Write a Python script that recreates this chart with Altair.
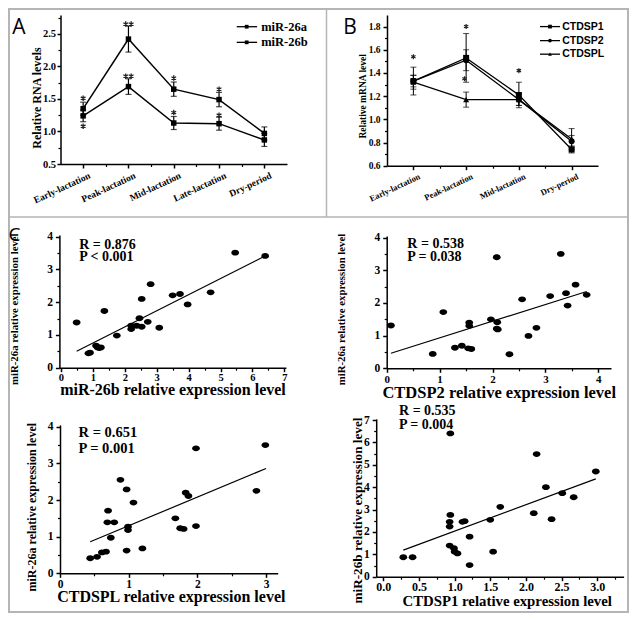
import json
import altair as alt
import pandas as pd

# ---------------- data ----------------
# Panel A
stages_a = ["Early-lactation", "Peak-lactation", "Mid-lactation", "Late-lactation", "Dry-period"]
mir26a = [1.35, 2.42, 1.65, 1.49, 0.97]
mir26a_err = [0.10, 0.20, 0.11, 0.11, 0.10]
mir26b = [1.24, 1.69, 1.13, 1.12, 0.87]
mir26b_err = [0.09, 0.12, 0.10, 0.10, 0.10]
sig_a_x = [1, 1, 2, 2, 3, 3, 4, 4]
sig_a_y = [1.51, 1.08, 2.65, 1.85, 1.82, 1.29, 1.65, 1.25]
sig_a_t = ["*", "*", "**", "**", "*", "*", "*", "*"]

# Panel B
stages_b = ["Early-lactation", "Peak-lactation", "Mid-lactation", "Dry-period"]
ctdsp1 = [1.33, 1.53, 1.21, 0.74]
ctdsp1_err = [0.12, 0.21, 0.11, 0.03]
ctdsp2 = [1.33, 1.51, 1.17, 0.81]
ctdsp2_err = [0.05, 0.09, 0.05, 0.05]
ctdspl = [1.32, 1.17, 1.17, 0.83]
ctdspl_err = [0.06, 0.065, 0.05, 0.09]
sig_b_x = [1.0, 2.0, 1.97, 3.0]
sig_b_y = [1.54, 1.80, 1.35, 1.42]
sig_b_t = ["*", "*", "*", "*"]

# Panel C1: miR-26b (x) vs miR-26a (y)
c1_x = [0.49, 0.86, 0.91, 1.10, 1.15, 1.20, 1.25, 1.36, 1.75, 2.20, 2.20, 2.37, 2.46, 2.53,
        2.53, 2.72, 2.81, 3.08, 3.50, 3.73, 3.97, 4.69, 5.46, 6.40]
c1_y = [1.38, 0.44, 0.46, 0.67, 0.62, 0.60, 0.62, 1.73, 0.98, 1.28, 1.18, 1.28, 1.51, 1.25,
        2.10, 1.40, 2.55, 1.22, 2.21, 2.25, 1.93, 2.30, 3.51, 3.41]
c1_fit_x = [0.49, 6.40]
c1_fit_y = [0.50, 3.41]
c1_stats = ["R = 0.876", "P < 0.001"]

# Panel C2: CTDSP2 (x) vs miR-26a (y)
c2_x = [0.08, 0.87, 1.07, 1.29, 1.42, 1.54, 1.60, 1.56, 1.56, 1.97, 2.08, 2.09, 2.08, 2.10,
        2.32, 2.56, 2.68, 2.83, 3.09, 3.29, 3.39, 3.42, 3.57, 3.78]
c2_y = [1.31, 0.44, 1.72, 0.63, 0.69, 0.61, 0.59, 1.40, 1.30, 1.50, 3.40, 1.41, 1.21, 1.19,
        0.43, 2.11, 0.99, 1.24, 2.21, 3.50, 2.30, 1.92, 2.56, 2.25]
c2_fit_x = [0.08, 3.78]
c2_fit_y = [0.46, 2.35]
c2_stats = ["R = 0.538", "P = 0.038"]

# Panel C3: CTDSPL (x) vs miR-26a (y)
c3_x = [0.44, 0.54, 0.61, 0.67, 0.69, 0.70, 0.79, 0.74, 0.88, 0.97, 0.97, 0.99, 0.99, 1.07,
        1.20, 1.68, 1.75, 1.80, 1.83, 1.87, 1.98, 1.98, 2.86, 2.99]
c3_y = [0.41, 0.45, 0.57, 0.59, 1.39, 1.71, 1.39, 0.97, 2.55, 2.29, 0.62, 1.27, 1.18, 1.93,
        0.68, 1.50, 1.23, 1.21, 2.20, 2.11, 3.41, 1.29, 2.25, 3.50]
c3_fit_x = [0.44, 3.00]
c3_fit_y = [0.86, 2.86]
c3_stats = ["R = 0.651", "P = 0.001"]

# Panel C4: CTDSP1 (x) vs miR-26b (y)
c4_x = [0.28, 0.41, 0.94, 0.93, 0.93, 0.94, 0.93, 0.99, 1.00, 1.04, 1.11, 1.14, 1.21, 1.21,
        1.50, 1.54, 1.64, 2.11, 2.15, 2.28, 2.36, 2.51, 2.67, 2.98]
c4_y = [0.87, 0.87, 6.40, 2.45, 2.24, 2.76, 1.39, 1.27, 1.12, 1.04, 2.45, 2.48, 1.79, 0.52,
        2.54, 1.12, 3.12, 2.84, 5.48, 4.00, 2.57, 3.73, 3.55, 4.70]
c4_fit_x = [0.28, 2.98]
c4_fit_y = [1.19, 4.37]
c4_stats = ["R = 0.535", "P = 0.004"]

# ---------------- layout helpers ----------------
W, H = 621, 605
SERIF = "Liberation Serif"
SANS = "Liberation Sans"
ELLIPSE = "M-1,0A1,0.75 0 1,0 1,0A1,0.75 0 1,0 -1,0Z"
ASTERISK = "M0,-1L0,1M-0.87,-0.5L0.87,0.5M-0.87,0.5L0.87,-0.5"

AX_STYLE = dict(grid=False, domainColor="black", domainWidth=1.5, tickColor="black", tickWidth=1.5,
                labelFont=SERIF, labelFontWeight="bold", labelColor="black", labelFlush=False,
                labelOverlap=False, titleFont=SERIF, titleFontWeight="bold", titleColor="black")
MINOR_STYLE = dict(grid=False, domain=False, labels=False, tickColor="black", tickWidth=1.2,
                   tickSize=2.5, title="")


def scale(dom, rng):
    return alt.Scale(domain=dom, range=rng, nice=False, zero=False)


def x_axis(axis_y, values, **kw):
    return alt.Axis(orient="bottom", offset=axis_y - H, values=values, **AX_STYLE, **kw)


def y_axis(axis_x, values, **kw):
    return alt.Axis(orient="left", offset=-axis_x, values=values, **AX_STYLE, **kw)


class Panel:
    def __init__(self, xs, ys, xa, ya, ax_y, ax_x, xminor, yminor):
        self.xs, self.ys, self.xa, self.ya = xs, ys, xa, ya
        self.ax_y, self.ax_x = ax_y, ax_x
        self.xminor, self.yminor = xminor, yminor

    def X(self, f):
        return alt.X(f"{f}:Q", scale=self.xs, axis=self.xa)

    def Y(self, f):
        return alt.Y(f"{f}:Q", scale=self.ys, axis=self.ya)

    def minor_layer(self, df, xf, yf):
        return alt.Chart(df).mark_point(opacity=0, size=1).encode(
            x=alt.X(f"{xf}:Q", scale=self.xs,
                    axis=alt.Axis(orient="bottom", offset=self.ax_y - H, values=self.xminor, **MINOR_STYLE)),
            y=alt.Y(f"{yf}:Q", scale=self.ys,
                    axis=alt.Axis(orient="left", offset=-self.ax_x, values=self.yminor, **MINOR_STYLE)),
        )

    def wrap(self, layers, df, xf, yf):
        return alt.layer(alt.layer(*layers), self.minor_layer(df, xf, yf)).resolve_axis(
            x="independent", y="independent")


def cat_expr(names):
    return json.dumps(names) + "[datum.value - 1]"


def steps(lo, hi, step):
    out, v = [], lo
    while v <= hi + 1e-9:
        out.append(round(v, 3))
        v += step
    return out


def star_rows(xs, ys, ts, gap):
    rows = []
    for x, y, t in zip(xs, ys, ts):
        n = len(t)
        for k in range(n):
            rows.append({"x": x + (k - (n - 1) / 2) * gap, "y": y})
    return pd.DataFrame(rows)


# ---------------- Panel A ----------------
pa = Panel(
    scale([0.5, 5.5], [52.5, 279]),
    scale([0.5, 2.79], [156, 7]),
    x_axis(156, [1, 2, 3, 4, 5], labelExpr=cat_expr(stages_a), labelAngle=335, labelOffset=4,
           labelFontSize=9.5, tickSize=4, labelPadding=2, title=""),
    y_axis(52.5, [0.5, 1.0, 1.5, 2.0, 2.5], format=".1f", labelFontSize=10.5, tickSize=3.5,
           labelPadding=1.5, title="Relative RNA levels", titleFontSize=12, titleAngle=270,
           titleAlign="center", titleBaseline="middle", titleX=-23.8, titleY=89.5),
    156, 52.5, [1.5, 2.5, 3.5, 4.5], [0.75, 1.25, 1.75, 2.25, 2.75],
)
rows = []
for name, vals, errs in [("miR-26a", mir26a, mir26a_err), ("miR-26b", mir26b, mir26b_err)]:
    for i, (v, e) in enumerate(zip(vals, errs)):
        rows.append({"series": name, "x": i + 1, "y": v, "lo": v - e, "hi": v + e})
df_a = pd.DataFrame(rows)
df_sig_a = star_rows(sig_a_x, sig_a_y, sig_a_t, 0.12)
leg_a = pd.DataFrame({"label": ["miR-26a", "miR-26b"], "y": [2.61, 2.37],
                      "x1": [4.39] * 2, "x2": [4.84] * 2, "xm": [4.61] * 2, "xt": [4.93] * 2})

base_a = alt.Chart(df_a)
panel_a = pa.wrap([
    base_a.mark_rule(color="black", strokeWidth=1.2).encode(x=pa.X("x"), y=pa.Y("lo"), y2="hi"),
    base_a.mark_tick(orient="horizontal", size=6, thickness=1.2, color="black").encode(x=pa.X("x"), y=pa.Y("lo")),
    base_a.mark_tick(orient="horizontal", size=6, thickness=1.2, color="black").encode(x=pa.X("x"), y=pa.Y("hi")),
    base_a.mark_line(color="black", strokeWidth=1.5).encode(x=pa.X("x"), y=pa.Y("y"), detail="series:N"),
    base_a.mark_point(shape="square", filled=True, size=30, color="black", opacity=1).encode(x=pa.X("x"), y=pa.Y("y")),
    alt.Chart(df_sig_a).mark_point(shape=ASTERISK, filled=False, size=30, strokeWidth=1.3, color="#222222",
                                   opacity=1).encode(x=pa.X("x"), y=pa.Y("y")),
    alt.Chart(leg_a).mark_rule(color="black", strokeWidth=1.3).encode(x=pa.X("x1"), x2="x2", y=pa.Y("y")),
    alt.Chart(leg_a).mark_point(shape="square", filled=True, size=14, color="black", opacity=1).encode(
        x=pa.X("xm"), y=pa.Y("y")),
    alt.Chart(leg_a).mark_text(font=SERIF, fontWeight="bold", fontSize=12.5, align="left", baseline="middle",
                               color="black").encode(x=pa.X("xt"), y=pa.Y("y"), text="label:N"),
], df_a, "x", "y")

# ---------------- Panel B ----------------
pb = Panel(
    scale([0.5, 4.5], [379, 590]),
    scale([0.6, 1.9], [157.7, 7]),
    x_axis(157.7, [1, 2, 3, 4], labelExpr=cat_expr(stages_b), labelAngle=335, labelOffset=4,
           labelFontSize=8.5, tickSize=4, labelPadding=2, title=""),
    y_axis(379, [0.6, 0.8, 1.0, 1.2, 1.4, 1.6, 1.8], format=".1f", labelFontSize=9.5, tickSize=4,
           labelPadding=3, title="Relative mRNA level", titleFontSize=9.5, titleAngle=270,
           titleAlign="center", titleBaseline="middle", titleX=-24.8, titleY=87.8),
    157.7, 379, [1.5, 2.5, 3.5], [0.7, 0.9, 1.1, 1.3, 1.5, 1.7],
)
shapes_b = {"CTDSP1": "square", "CTDSP2": "circle", "CTDSPL": "triangle-up"}
rows = []
for name, vals, errs in [("CTDSP1", ctdsp1, ctdsp1_err), ("CTDSP2", ctdsp2, ctdsp2_err),
                         ("CTDSPL", ctdspl, ctdspl_err)]:
    for i, (v, e) in enumerate(zip(vals, errs)):
        rows.append({"series": name, "x": i + 1, "y": v, "lo": v - e, "hi": v + e})
df_b = pd.DataFrame(rows)
df_sig_b = star_rows(sig_b_x, sig_b_y, sig_b_t, 0.1)
leg_b = pd.DataFrame({"label": ["CTDSP1", "CTDSP2", "CTDSPL"], "y": [1.80, 1.679, 1.562],
                      "x1": [3.40] * 3, "x2": [3.78] * 3, "xm": [3.59] * 3, "xt": [3.82] * 3})
base_b = alt.Chart(df_b)
layers_b = [
    base_b.mark_rule(color="black", strokeWidth=1).encode(x=pb.X("x"), y=pb.Y("lo"), y2="hi"),
    base_b.mark_tick(orient="horizontal", size=6, thickness=1, color="black").encode(x=pb.X("x"), y=pb.Y("lo")),
    base_b.mark_tick(orient="horizontal", size=6, thickness=1, color="black").encode(x=pb.X("x"), y=pb.Y("hi")),
    base_b.mark_line(color="black", strokeWidth=1.3).encode(x=pb.X("x"), y=pb.Y("y"), detail="series:N"),
    alt.Chart(leg_b).mark_rule(color="black", strokeWidth=1.3).encode(x=pb.X("x1"), x2="x2", y=pb.Y("y")),
]
for name, shp in shapes_b.items():
    layers_b.append(
        base_b.transform_filter(alt.datum.series == name).mark_point(
            shape=shp, filled=True, size=36, color="black", opacity=1).encode(x=pb.X("x"), y=pb.Y("y")))
    layers_b.append(
        alt.Chart(leg_b).transform_filter(alt.datum.label == name).mark_point(
            shape=shp, filled=True, size=14, color="black", opacity=1).encode(x=pb.X("xm"), y=pb.Y("y")))
layers_b += [
    alt.Chart(df_sig_b).mark_point(shape=ASTERISK, filled=False, size=25, strokeWidth=1.2, color="#222222",
                                   opacity=1).encode(x=pb.X("x"), y=pb.Y("y")),
    alt.Chart(leg_b).mark_text(font=SANS, fontWeight="bold", fontSize=10.5, align="left", baseline="middle",
                               color="black").encode(x=pb.X("xt"), y=pb.Y("y"), text="label:N"),
]
panel_b = pb.wrap(layers_b, df_b, "x", "y")


# ---------------- scatter panels ----------------
def scatter(px, py, fx, fy, stats, stat_x, stat_y, stat_size, p, extra=()):
    pts = pd.DataFrame({"x": px, "y": py})
    fit = pd.DataFrame({"x": fx, "y": fy})
    st = pd.DataFrame({"x": [stat_x, stat_x], "y": stat_y, "t": stats})
    return p.wrap([
        alt.Chart(fit).mark_line(color="black", strokeWidth=1.2).encode(x=p.X("x"), y=p.Y("y")),
        alt.Chart(pts).mark_point(shape=ELLIPSE, filled=True, size=60, color="black", opacity=1).encode(
            x=p.X("x"), y=p.Y("y")),
        alt.Chart(st).mark_text(font=SERIF, fontWeight="bold", fontSize=stat_size, align="left",
                                baseline="middle", color="black").encode(x=p.X("x"), y=p.Y("y"), text="t:N"),
        *extra,
    ], pts, "x", "y")


def c_panel(xdom, xrng, ydom, yrng, xvals, xfmt, xtitle, xtx, xty, xts, xls, yvals, ytitle, ytx, yty, yts,
            xminor, yminor):
    ax_y, ax_x = yrng[0], xrng[0]
    xa = x_axis(ax_y, xvals, format=xfmt, labelFontSize=xls, tickSize=4, labelPadding=1,
                title=xtitle, titleFontSize=xts, titleAngle=0, titleAlign="center",
                titleBaseline="middle", titleX=xtx, titleY=xty)
    ya = y_axis(ax_x, yvals, format="d", labelFontSize=11.5, tickSize=4, labelPadding=3,
                title=ytitle, titleFontSize=yts, titleAngle=270, titleAlign="center",
                titleBaseline="middle", titleX=ytx, titleY=yty)
    return Panel(scale(xdom, xrng), scale(ydom, yrng), xa, ya, ax_y, ax_x, xminor, yminor)


p1 = c_panel([-0.05, 7.05], [51.4, 277.9], [0, 4.05], [359.7, 227],
             list(range(8)), "d", "miR-26b relative expression level", 164.5, 21.5, 16, 10.5,
             list(range(5)), "", -42.4, 301.2, 10.8,
             steps(0.5, 6.5, 1.0), steps(0.5, 3.5, 1.0))
c1_ytitle = alt.Chart(pd.DataFrame({"t": ["miR-26a relative expression level"]})).mark_text(
    font=SERIF, fontWeight="bold", fontSize=10.8, angle=270, align="center", baseline="middle",
    color="black").encode(x=alt.value(6.5), y=alt.value(301.2), text="t:N")
panel_c1 = scatter(c1_x, c1_y, c1_fit_x, c1_fit_y, c1_stats, 0.57, [3.75, 3.365], 14, p1, extra=[c1_ytitle])

p2 = c_panel([0, 4.24], [378.7, 603], [0, 4.05], [360.3, 228],
             list(range(5)), "d", "CTDSP2 relative expression level", 490.7, 24, 16.5, 11,
             list(range(5)), "miR-26a relative expression level", -45, 301, 10.8,
             steps(0.5, 3.5, 1.0), steps(0.5, 3.5, 1.0))
panel_c2 = scatter(c2_x, c2_y, c2_fit_x, c2_fit_y, c2_stats, 0.39, [3.80, 3.40], 14, p2)

p3 = c_panel([0, 3.17], [52, 269.7], [0, 4.05], [565.3, 416.9],
             list(range(4)), "d", "CTDSPL relative expression level", 162.8, 23.5, 16, 11.5,
             list(range(5)), "miR-26a relative expression level", -28.7, 498.7, 12,
             steps(0.5, 2.5, 1.0), steps(0.5, 3.5, 1.0))
panel_c3 = scatter(c3_x, c3_y, c3_fit_x, c3_fit_y, c3_stats, 0.27, [3.82, 3.38], 14.5, p3)

p4 = c_panel([-0.1, 3.37], [368.2, 615.6], [0, 7.05], [568.7, 410.9],
             [0, 0.5, 1.0, 1.5, 2.0, 2.5, 3.0], ".1f", "CTDSP1 relative expression level",
             498.7, 25, 14.8, 12,
             list(range(8)), "miR-26b relative expression level", -18.7, 502, 13.2,
             steps(0.25, 3.25, 0.5), steps(0.5, 6.5, 1.0))
panel_c4 = scatter(c4_x, c4_y, c4_fit_x, c4_fit_y, c4_stats, 0.22, [7.41, 6.78], 14, p4)

# ---------------- frame, dividers, panel letters ----------------
one = pd.DataFrame({"k": [0]})
deco = alt.layer(
    alt.Chart(one).mark_rect(fillOpacity=0, stroke="#b5b5b5", strokeWidth=2).encode(
        x=alt.value(1), x2=alt.value(W - 1), y=alt.value(1), y2=alt.value(H - 1)),
    alt.Chart(one).mark_rule(stroke="#b5b5b5", strokeWidth=1.5).encode(
        x=alt.value(0), x2=alt.value(W), y=alt.value(209)),
    alt.Chart(one).mark_rule(stroke="#b5b5b5", strokeWidth=1.5).encode(
        x=alt.value(318.5), y=alt.value(0), y2=alt.value(209)),
    alt.Chart(one).mark_text(text="A", font="Open Sans", fontSize=21, align="center", baseline="middle",
                             color="black").encode(x=alt.value(11), y=alt.value(20)),
    alt.Chart(one).mark_text(text="B", font="Open Sans", fontSize=21, align="center", baseline="middle",
                             color="black").encode(x=alt.value(342), y=alt.value(20)),
    alt.Chart(one).mark_text(text="C", font="Open Sans", fontSize=19, align="left", baseline="middle",
                             color="black").encode(x=alt.value(0.5), y=alt.value(227)),
)

chart = alt.layer(panel_a, panel_b, panel_c1, panel_c2, panel_c3, panel_c4, deco).resolve_scale(
    x="independent", y="independent"
).properties(
    width=W, height=H, padding=0, autosize=alt.AutoSizeParams(type="none"), background="white"
).configure_view(stroke=None)

chart.save("out.html", embed_options={"renderer": "svg", "actions": False})
